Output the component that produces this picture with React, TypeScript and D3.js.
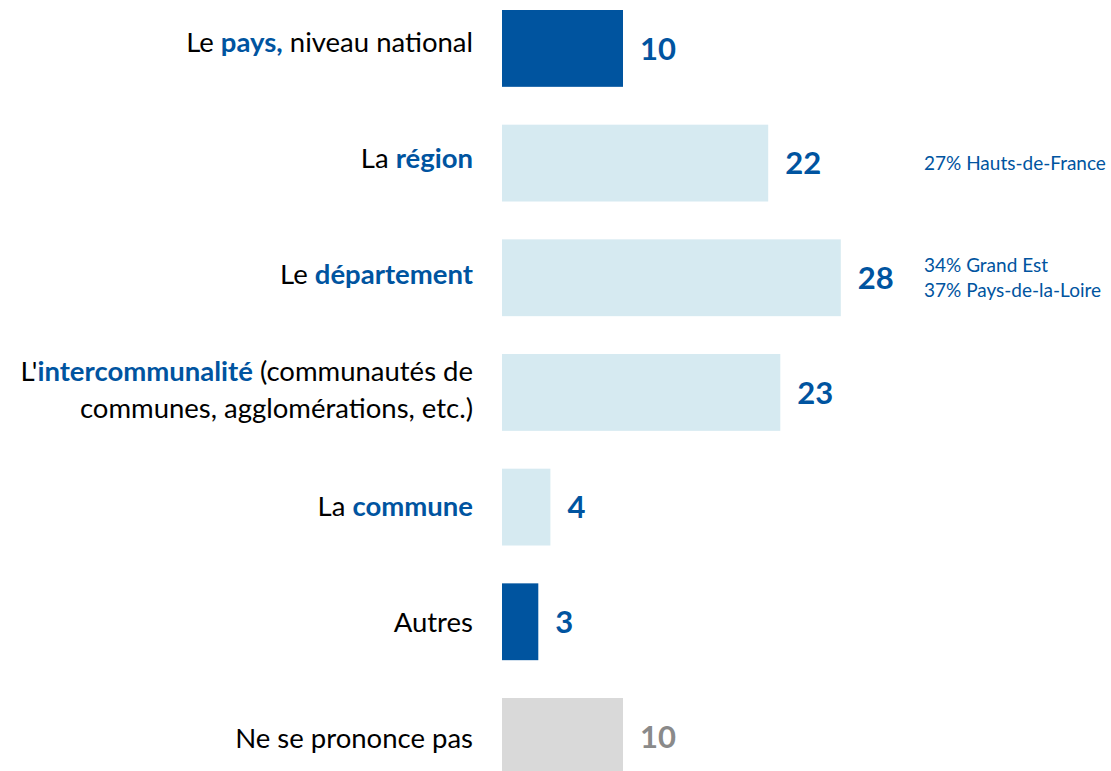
import React from "react";
import { scaleLinear, scaleBand, scaleOrdinal, scalePoint } from "d3";

const categories = ["pays", "region", "departement", "interco", "commune", "autres", "nsp"];
const values = [10, 22, 28, 23, 4, 3, 10];
const groups = ["dark", "light", "light", "light", "light", "dark", "grey"];

// label lines, each a list of [text, highlighted]
const labelLines: [string, boolean][][][] = [
  [[["Le ", false], ["pays,", true], [" niveau national", false]]],
  [[["La ", false], ["région", true]]],
  [[["Le ", false], ["département", true]]],
  [
    [["L'", false], ["intercommunalité", true], [" (communautés de", false]],
    [["communes, agglomérations, etc.)", false]],
  ],
  [[["La ", false], ["commune", true]]],
  [[["Autres", false]]],
  [[["Ne se prononce pas", false]]],
];

const notes: Record<string, string[]> = {
  region: ["27% Hauts-de-France"],
  departement: ["34% Grand Est", "37% Pays-de-la-Loire"],
};

const BLUE = "#0054A0";

export default function App() {
  const width = 1111;
  const height = 771;
  const font = "Lato, 'Open Sans', sans-serif";

  const step = 114.67;
  const yScale = scaleBand<string>()
    .domain(categories)
    .range([10 - 0.165 * step, 10 - 0.165 * step + categories.length * step])
    .paddingInner(0.33)
    .paddingOuter(0.165);

  // category labels sit on a slightly different rhythm than the bars
  const labelY = scalePoint<string>().domain(categories).range([42, 738]);

  const xScale = scaleLinear().domain([0, 30]).range([502, 865]);

  const fillScale = scaleOrdinal<string, string>()
    .domain(["dark", "light", "grey"])
    .range(["#00549F", "#D6EAF1", "#D9D9D9"]);
  const valueColor = scaleOrdinal<string, string>()
    .domain(["dark", "light", "grey"])
    .range([BLUE, BLUE, "#8A8A8A"]);

  const lineGap = 37;

  return (
    <svg
      width={width}
      height={height}
      viewBox={`0 0 ${width} ${height}`}
      style={{ position: "absolute", left: 0, top: 0, background: "#fff" }}
      fontFamily={font}
    >
      {categories.map((c, i) => {
        const y = yScale(c)!;
        const h = yScale.bandwidth();
        const cy = y + h / 2;
        const ly = labelY(c)!;
        const lines = labelLines[i];
        const noteLines = notes[c] || [];
        return (
          <g key={c}>
            <rect
              x={xScale(0)}
              y={y}
              width={xScale(values[i]) - xScale(0)}
              height={h}
              fill={fillScale(groups[i])}
            />
            <text
              x={xScale(values[i]) + 17}
              y={cy}
              dy="0.36em"
              fontSize={31}
              fontWeight="bold"
              fill={valueColor(groups[i])}
            >
              {values[i]}
            </text>
            {lines.map((parts, li) => (
              <text
                key={li}
                x={473}
                y={ly + (li - (lines.length - 1) / 2) * lineGap}
                dy="0.36em"
                textAnchor="end"
                fontSize={27.5}
                fill="#000"
              >
                {parts.map(([t, hl], pi) => (
                  <tspan
                    key={pi}
                    fill={hl ? BLUE : "#000"}
                    fontWeight={hl ? "bold" : "normal"}
                  >
                    {t}
                  </tspan>
                ))}
              </text>
            ))}
            {noteLines.map((t, ni) => (
              <text
                key={ni}
                x={924}
                y={cy + (ni - (noteLines.length - 1) / 2) * 25}
                dy="0.36em"
                fontSize={19}
                fill={BLUE}
              >
                {t}
              </text>
            ))}
          </g>
        );
      })}
    </svg>
  );
}
